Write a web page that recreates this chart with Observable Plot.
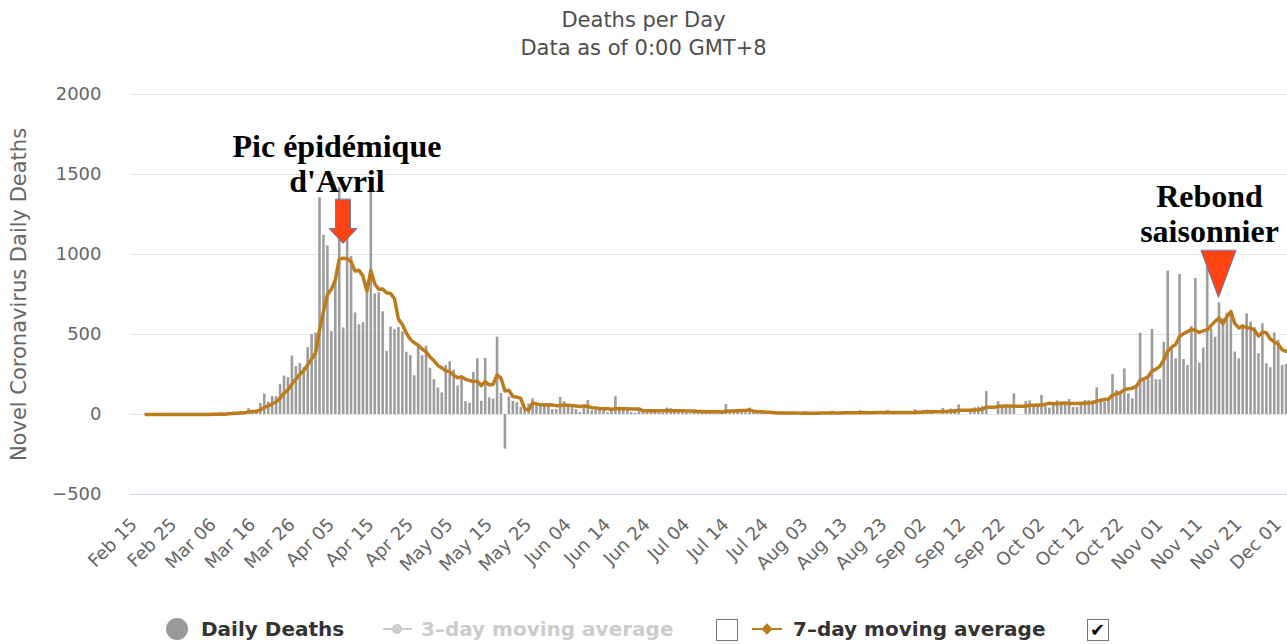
<!DOCTYPE html>
<html>
<head>
<meta charset="utf-8">
<script src="https://cdn.jsdelivr.net/npm/d3@7"></script>
<script src="https://cdn.jsdelivr.net/npm/@observablehq/plot@0.6"></script>
<style>
  body { margin: 0; background: #fff; font-family: "DejaVu Sans", sans-serif; }
  #wrap { position: relative; width: 1287px; height: 644px; overflow: hidden; }
  #chart { position: absolute; left: 0; top: 0; }
  #title { position: absolute; left: 0; top: 6px; width: 1287px; text-align: center; font-size: 21px; line-height: 28px; color: #4d4d4d; }
  .leg { position: absolute; top: 617px; font-weight: bold; font-size: 20px; line-height: 24px; white-space: nowrap; }
  .box { position: absolute; top: 619px; width: 20px; height: 20px; border: 1px solid #777; background: #fff; }
</style>
</head>
<body>
<div id="wrap">
  <div id="chart"></div>
  <div id="title">Deaths per Day<br>Data as of 0:00 GMT+8</div>
  <div style="position:absolute;left:166px;top:618px;width:22px;height:22px;border-radius:50%;background:#999;"></div>
  <div class="leg" style="left:201px;color:#333;">Daily Deaths</div>
  <div style="position:absolute;left:383px;top:628px;width:29px;height:2px;background:#ccc;"></div>
  <div style="position:absolute;left:392px;top:624px;width:10px;height:10px;border-radius:50%;background:#ccc;"></div>
  <div class="leg" style="left:421px;color:#ccc;">3–day moving average</div>
  <div class="box" style="left:716px;"></div>
  <div style="position:absolute;left:752px;top:628px;width:30px;height:2px;background:#bd7b1c;"></div>
  <div style="position:absolute;left:763px;top:625px;width:8px;height:8px;transform:rotate(45deg);background:#bd7b1c;"></div>
  <div class="leg" style="left:793px;color:#333;">7–day moving average</div>
  <div class="box" style="left:1087px;"><span style="position:absolute;left:2px;top:-1px;font-size:18px;color:#000;">✔</span></div>
</div>
<script>
// Daily deaths, one array per month (Feb starts on the 15th)
const feb = [1,0,0,0,0,0,0,0,0,0,0,1,0,0,0];
const mar = [0,1,1,0,2,3,2,8,0,14,15,13,18,12,36,21,27,69,128,78,112,112,186,240,231,365,299,319,292,418,499];
const apr = [509,1355,1120,1053,518,833,1417,541,1341,987,635,561,574,762,1438,753,761,642,395,547,531,544,516,389,369,242,437,367,427,289];
const may = [218,166,135,306,330,278,178,243,80,70,263,348,83,351,104,96,483,131,-217,110,83,74,43,35,65,98,66,52,57,52,31];
const jun = [31,107,81,44,46,31,13,54,87,23,27,28,24,10,29,111,30,25,25,12,8,35,30,30,25,20,12,8,40,35];
const jul = [20,25,20,10,5,30,25,15,20,18,5,5,20,62,25,20,25,15,10,40,10,8,12,10,5,3,15,12,10,11,10];
const aug = [0,0,18,9,12,10,13,0,0,21,10,15,17,12,0,0,24,16,12,17,14,0,0,25,15,18,16,12,0,0,30];
const sep = [21,26,28,20,0,0,38,25,34,32,60,0,0,32,42,46,50,144,0,0,81,44,52,54,129,0,0,81,85,59];
const oct = [60,119,50,40,60,85,77,77,94,44,44,71,87,87,87,167,77,77,98,250,150,140,285,129,98,175,508,229,229,531,217];
const nov = [217,452,896,404,348,875,344,306,550,850,321,415,921,535,483,698,598,633,640,390,348,562,629,577,542,380,567,317,292,510];
const dec = [463,306,312];

const xTickLabels = ["Feb 15","Feb 25","Mar 06","Mar 16","Mar 26","Apr 05","Apr 15","Apr 25","May 05","May 15","May 25","Jun 04","Jun 14","Jun 24","Jul 04","Jul 14","Jul 24","Aug 03","Aug 13","Aug 23","Sep 02","Sep 12","Sep 22","Oct 02","Oct 12","Oct 22","Nov 01","Nov 11","Nov 21","Dec 01"];
const yTicks = [-500, 0, 500, 1000, 1500, 2000];
const yTitle = "Novel Coronavirus Daily Deaths";

const annotations = [
  {date: "2020-04-06T10:00Z", value: 1675, text: "Pic épidémique"},
  {date: "2020-04-06T10:00Z", value: 1456, text: "d'Avril"},
  {date: "2020-11-13T14:00Z", value: 1362, text: "Rebond"},
  {date: "2020-11-13T14:00Z", value: 1144, text: "saisonnier"}
];
const blockArrow = [{date: "2020-04-07T23:00Z", value: 1069}];
const triangle = [{date: "2020-11-15T21:00Z", value: 731}];

const start = Date.UTC(2020, 1, 15);
const daily = [feb, mar, apr, may, jun, jul, aug, sep, oct, nov, dec].flat();
const days = daily.map((v, i) => ({date: new Date(start + i * 864e5), deaths: v}));
const parseTick = d3.utcParse("%b %d %Y");
const xTicks = xTickLabels.map(s => parseTick(s + " 2020"));
const ann = annotations.map(a => ({...a, date: new Date(a.date)}));
const arr1 = blockArrow.map(a => ({...a, date: new Date(a.date)}));
const arr2 = triangle.map(a => ({...a, date: new Date(a.date)}));

const blockShape = {draw(c, l) {
  const h = 15;
  c.moveTo(-7.5, 0); c.lineTo(-7.5, -(l - h)); c.lineTo(-14, -(l - h));
  c.lineTo(0, -l); c.lineTo(14, -(l - h)); c.lineTo(7.5, -(l - h)); c.lineTo(7.5, 0); c.closePath();
}};
const triShape = {draw(c, l) {
  c.moveTo(-17.5, 0); c.lineTo(0, -l); c.lineTo(17.5, 0); c.closePath();
}};

const fmtY = v => v < 0 ? "\u2212" + Math.abs(v) : String(v);

const chart = Plot.plot({
  width: 1287, height: 644,
  marginLeft: 130, marginRight: 0, marginTop: 94, marginBottom: 150,
  style: {fontFamily: "DejaVu Sans", background: "transparent"},
  x: {type: "utc", domain: [new Date(start), xTicks[xTicks.length - 1]], range: [133.6, 1277.7]},
  y: {domain: [-500, 2000]},
  marks: [
    Plot.ruleY(yTicks.filter(v => v !== -500), {stroke: "#e6e6e6", strokeWidth: 1}),
    Plot.ruleY([-500], {stroke: "#ccd6eb", strokeWidth: 1}),
    Plot.axisY(yTicks, {tickSize: 0, tickPadding: 29, tickFormat: fmtY, fontSize: 18, color: "#666", label: null}),
    Plot.axisX(xTicks, {tickSize: 0, tickRotate: -45, tickPadding: 27, tickFormat: d3.utcFormat("%b %d"), fontSize: 18, color: "#666", label: null}),
    Plot.ruleX(days, {x: "date", y1: 0, y2: "deaths", stroke: "#9d9d9d", strokeWidth: 2.6}),
    Plot.lineY(days, Plot.windowY({k: 7, anchor: "end", reduce: v => v.length < 4 ? NaN : d3.mean(v)},
      {x: "date", y: "deaths", stroke: "#bd7b1c", strokeWidth: 3.5})),
    Plot.text([yTitle], {frameAnchor: "left", textAnchor: "middle", rotate: -90, dx: -111, fontSize: 21, fill: "#666"}),
    Plot.text(ann, {x: "date", y: "value", text: "text", fontFamily: "Liberation Serif", fontWeight: "bold", fontSize: 32, fill: "#000", lineAnchor: "middle"}),
    Plot.vector(arr1, {x: "date", y: "value", length: 44, rotate: 180, anchor: "end", shape: blockShape, fill: "#ff4412", stroke: "#3f6fbf", strokeWidth: 0.8}),
    Plot.vector(arr2, {x: "date", y: "value", length: 47, rotate: 180, anchor: "end", shape: triShape, fill: "#ff4412", stroke: "#3f6fbf", strokeWidth: 0.8})
  ]
});
document.getElementById("chart").appendChild(chart);
</script>
</body>
</html>
